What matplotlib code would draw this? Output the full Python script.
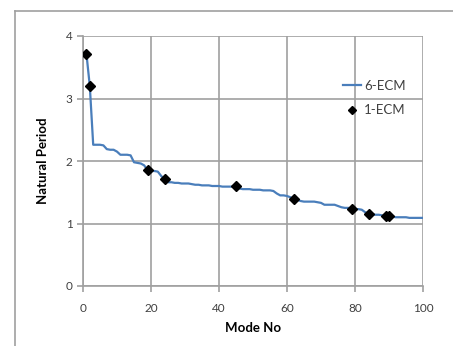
import matplotlib
matplotlib.use("Agg")
from matplotlib import pyplot as plt
from matplotlib.lines import Line2D

plt.rcParams['font.family'] = ['Lato', 'DejaVu Sans']

# 6-ECM: natural period for modes 1..100
modes_6ecm = list(range(1, 101))
period_6ecm = [3.72, 3.20, 2.26, 2.26, 2.26, 2.25, 2.19, 2.18, 2.18, 2.15,
               2.10, 2.10, 2.10, 2.09, 1.98, 1.97, 1.96, 1.93, 1.85, 1.84,
               1.84, 1.83, 1.76, 1.71, 1.66, 1.66, 1.65, 1.65, 1.64, 1.64,
               1.64, 1.63, 1.62, 1.62, 1.61, 1.61, 1.61, 1.60, 1.60, 1.60,
               1.59, 1.59, 1.59, 1.59, 1.59, 1.56, 1.55, 1.55, 1.55, 1.54,
               1.54, 1.54, 1.53, 1.53, 1.53, 1.52, 1.48, 1.45, 1.45, 1.44,
               1.42, 1.39, 1.38, 1.36, 1.35, 1.35, 1.35, 1.35, 1.34, 1.33,
               1.30, 1.30, 1.30, 1.30, 1.28, 1.26, 1.25, 1.25, 1.24, 1.23,
               1.23, 1.22, 1.18, 1.16, 1.15, 1.14, 1.14, 1.13, 1.12, 1.12,
               1.11, 1.10, 1.10, 1.10, 1.10, 1.09, 1.09, 1.09, 1.09, 1.09]

# 1-ECM: selected modes
modes_1ecm = [1, 2, 19, 24, 45, 62, 79, 84, 89, 90]
period_1ecm = [3.72, 3.20, 1.85, 1.72, 1.60, 1.40, 1.24, 1.16, 1.12, 1.12]

grid_c = '#a0a0a0'
text_c = '#404040'

fig = plt.figure(figsize=(4.53, 3.46), dpi=100)
ax = fig.add_axes([83/453, 1-286/346, 340/453, 250/346])

ax.plot(modes_6ecm, period_6ecm, color='#4a7ebb', lw=1.6, label='6-ECM', zorder=3)
ax.plot(modes_1ecm, period_1ecm, ls='none', marker='D', ms=5, color='black',
        label='1-ECM', zorder=4)

ax.set_xlim(0, 100)
ax.set_ylim(0, 4)
ax.set_xticks(range(0, 101, 20))
ax.set_yticks(range(0, 5))
ax.grid(True, color=grid_c, lw=1.2)
ax.set_axisbelow(True)
for s in ['top', 'right']:
    ax.spines[s].set_visible(False)
for s in ['left', 'bottom']:
    ax.spines[s].set_color(grid_c)
    ax.spines[s].set_linewidth(1.2)
ax.tick_params(colors=grid_c, labelcolor=text_c, labelsize=8.5, length=4, width=1.2)
ax.tick_params(axis='x', pad=8)

ax.set_xlabel('Mode No', fontsize=9.5, fontweight='bold', color='black', labelpad=6)
ax.set_ylabel('Natural Period', fontsize=9.5, fontweight='bold', color='black', labelpad=12)

ax.legend(loc='upper left', bbox_to_anchor=(331/453, 1-68/346),
          bbox_transform=fig.transFigure, frameon=False, fontsize=9.5,
          handlelength=1.4, handletextpad=0.2, labelspacing=0.95,
          markerscale=0.75, labelcolor=text_c)

# outer chart frame
fig.add_artist(Line2D([15/453, 15/453], [0, 1-11/346], color=grid_c, lw=1.2))
fig.add_artist(Line2D([15/453, 1], [1-11/346, 1-11/346], color=grid_c, lw=1.2))

fig.savefig('out.png', dpi=100)
